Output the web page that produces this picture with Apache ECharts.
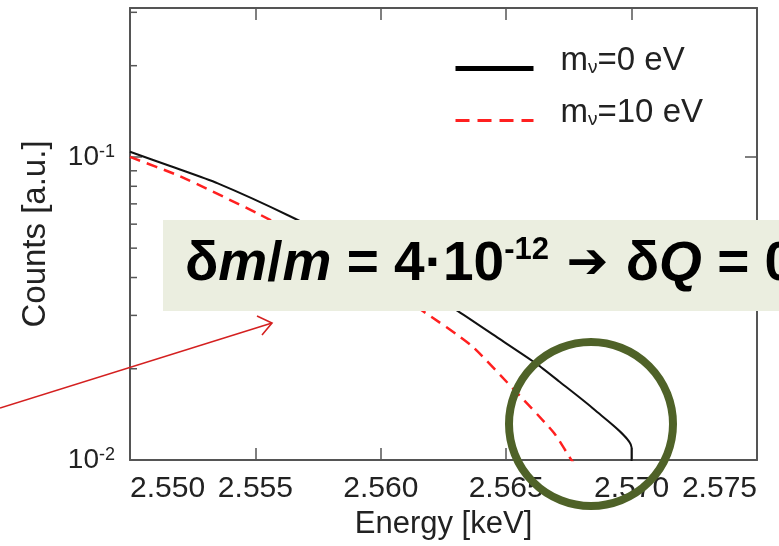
<!DOCTYPE html>
<html>
<head>
<meta charset="utf-8">
<script src="https://cdn.jsdelivr.net/npm/echarts@6/dist/echarts.min.js"></script>
<style>html,body{margin:0;padding:0;background:#fff;}#c{width:779px;height:546px;}</style>
</head>
<body>
<div id="c"></div>
<script>
// ---- data ----
const energyM0 = [2.5500, 2.5516, 2.5535, 2.5564, 2.5598, 2.5630, 2.5647, 2.5662, 2.5671, 2.5685, 2.5700, 2.5700];
const countsM0 = [0.104, 0.0933, 0.0818, 0.0636, 0.0457, 0.0313, 0.0252, 0.0208, 0.0182, 0.0147, 0.0110, 0.005];
const energyM10 = [2.5500, 2.5520, 2.5551, 2.5584, 2.5616, 2.5636, 2.5653, 2.5669, 2.5676, 2.5680];
const countsM10 = [0.100, 0.0863, 0.0650, 0.0465, 0.0313, 0.0239, 0.0171, 0.0123, 0.0100, 0.0090];
const seriesNames = ['m\u03bd=0 eV', 'm\u03bd=10 eV'];
const massLabels = ['0 eV', '10 eV'];
const xTicks = [2.550, 2.555, 2.560, 2.565, 2.570, 2.575];
const yMinorTicks = [0.02, 0.03, 0.04, 0.05, 0.06, 0.07, 0.08, 0.09, 0.2, 0.3];
const xMin = 2.550, xMax = 2.575, xStep = 0.005;
const yMin = 0.01, yMax = 0.31;

const chart = echarts.init(document.getElementById('c'));
const axisColor = '#555';
const textColor = '#222';
const font = 'Liberation Sans, Arial, sans-serif';

function pairs(xs, ys) { return xs.map((x, i) => [x, ys[i]]); }
function isPow10(v) { const e = Math.log10(v); return Math.abs(e - Math.round(e)) < 1e-6; }

const option = {
  animation: false,
  backgroundColor: '#fff',
  grid: { left: 130, right: 22, top: 8, bottom: 86 },
  xAxis: [{
    type: 'value', min: xMin, max: xMax, interval: xStep,
    name: 'Energy [keV]', nameLocation: 'middle', nameGap: 49,
    nameTextStyle: { fontFamily: font, fontSize: 31, color: textColor },
    axisLine: { show: true, lineStyle: { color: axisColor, width: 2 } },
    axisTick: { show: true, inside: true, length: 12, lineStyle: { color: axisColor, width: 1.5 } },
    axisLabel: {
      fontFamily: font, fontSize: 30, color: textColor, margin: 14,
      formatter: v => v.toFixed(3), alignMinLabel: 'left', alignMaxLabel: 'right'
    },
    splitLine: { show: false }
  }, {
    type: 'value', min: xMin, max: xMax, interval: xStep, position: 'top',
    axisLine: { show: true, lineStyle: { color: axisColor, width: 2 } },
    axisTick: { show: true, inside: true, length: 12, lineStyle: { color: axisColor, width: 1.5 } },
    axisLabel: { show: false }, splitLine: { show: false }
  }],
  yAxis: [{
    type: 'log', logBase: 10, min: yMin, max: yMax,
    name: 'Counts [a.u.]', nameLocation: 'middle', nameGap: 78, nameRotate: 90,
    nameTextStyle: { fontFamily: font, fontSize: 33, color: textColor },
    axisLine: { show: true, lineStyle: { color: axisColor, width: 2 } },
    axisTick: { show: true, inside: true, length: 12, lineStyle: { color: axisColor, width: 1.5 } },
    axisLabel: {
      margin: 15, color: textColor, showMaxLabel: false,
      formatter: v => isPow10(v) ? '{b|10}{e|' + Math.round(Math.log10(v)) + '}' : '',
      rich: {
        b: { fontFamily: font, fontSize: 28, color: textColor, lineHeight: 28 },
        e: { fontFamily: font, fontSize: 18, color: textColor, lineHeight: 6, verticalAlign: 'top' }
      }
    },
    splitLine: { show: false }
  }, {
    type: 'log', logBase: 10, min: yMin, max: yMax, position: 'right',
    axisLine: { show: true, lineStyle: { color: axisColor, width: 2 } },
    axisTick: { show: true, inside: true, length: 12, lineStyle: { color: axisColor, width: 1.5 } },
    axisLabel: { show: false }, splitLine: { show: false }
  }],
  legend: {
    data: [
      { name: seriesNames[0], itemStyle: { opacity: 0 }, lineStyle: { color: '#000', width: 5 } },
      { name: seriesNames[1], itemStyle: { opacity: 0 }, lineStyle: { color: '#ff2020', width: 3, type: [14, 8] } }
    ],
    orient: 'vertical', left: 448, top: 39, itemGap: 14,
    itemWidth: 78, itemHeight: 34,
    formatter: name => {
      const i = seriesNames.indexOf(name);
      return '{m|m}{s|\u03bd}{m|=' + massLabels[i] + '}';
    },
    textStyle: {
      padding: [0, 0, 16, 22],
      rich: {
        m: { fontFamily: font, fontSize: 33, color: textColor, lineHeight: 34 },
        s: { fontFamily: font, fontSize: 19, color: textColor, lineHeight: 10, verticalAlign: 'bottom' }
      }
    }
  },
  series: [{
    name: seriesNames[0], type: 'line', data: pairs(energyM0, countsM0),
    showSymbol: false, symbol: 'none', smooth: 0.2, clip: true,
    lineStyle: { color: '#111', width: 2 },
    itemStyle: { color: '#111' }
  }, {
    name: seriesNames[1], type: 'line', data: pairs(energyM10, countsM10),
    showSymbol: false, symbol: 'none', smooth: 0.2, clip: true,
    lineStyle: { color: '#ff2020', width: 2.5, type: [11, 7] },
    itemStyle: { color: '#ff2020' }
  }, {
    type: 'custom', silent: true, clip: false,
    data: yMinorTicks.map(v => [xMin, v]),
    renderItem: (params, api) => {
      const p = api.coord([api.value(0), api.value(1)]);
      return {
        type: 'line',
        shape: { x1: p[0], y1: p[1], x2: p[0] + 7, y2: p[1] },
        style: { stroke: axisColor, lineWidth: 1.5 }
      };
    }
  }],
  graphic: [
    // red annotation arrow
    { type: 'line', z: 50, shape: { x1: 0, y1: 408, x2: 272, y2: 323 },
      style: { stroke: '#d42020', lineWidth: 1.6 } },
    { type: 'polyline', z: 50, shape: { points: [[257, 316], [272, 323], [262, 335]] },
      style: { stroke: '#d42020', lineWidth: 1.6, fill: null } },
    // highlight box
    { type: 'rect', z: 60, shape: { x: 163, y: 220, width: 640, height: 91 },
      style: { fill: '#EBEEE0' } },
    { type: 'text', z: 61, left: 185, top: 235,
      style: {
        text: '{n|\u03b4}{i|m}{n|/}{i|m}{n| = 4\u00b710}{p|-12}{a| \u2794 }{n|\u03b4}{i|Q}{n| = 0}',
        rich: {
          n: { fontFamily: font, fontWeight: 'bold', fontSize: 55, fill: '#000', lineHeight: 60 },
          i: { fontFamily: font, fontWeight: 'bold', fontStyle: 'italic', fontSize: 55, fill: '#000', lineHeight: 60 },
          a: { fontFamily: 'DejaVu Sans', fontWeight: 'bold', fontSize: 50, fill: '#000', lineHeight: 60 },
          p: { fontFamily: font, fontWeight: 'bold', fontSize: 31, fill: '#000', lineHeight: 16, verticalAlign: 'top' }
        }
      } },
    // green circle
    { type: 'circle', z: 70, shape: { cx: 591, cy: 424, r: 82 },
      style: { fill: null, stroke: '#4F6228', lineWidth: 8 } }
  ]
};
chart.setOption(option);
</script>
</body>
</html>
